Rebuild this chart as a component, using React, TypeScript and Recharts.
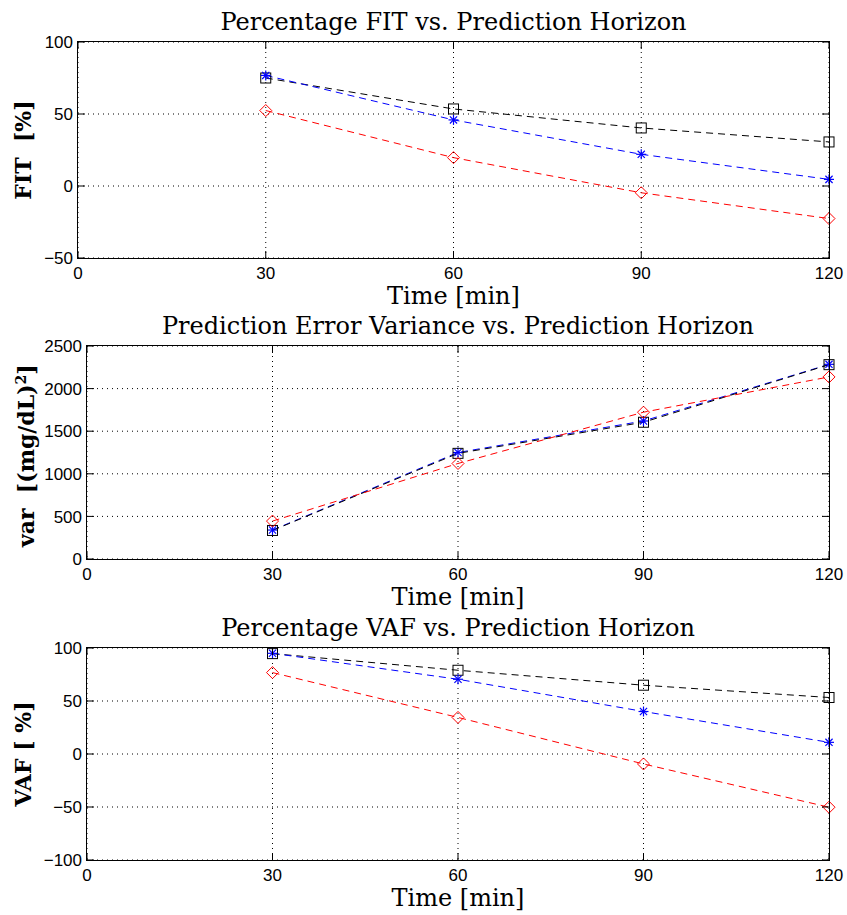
import React from "react";
import { LineChart, Line, XAxis, YAxis, CartesianGrid } from "recharts";

// prediction horizons [min]
const times = [30, 60, 90, 120];
const xTicks = [0, 30, 60, 90, 120];

// FIT [%]
const fitSquare = [75, 53.5, 40.3, 30.6];
const fitStar = [76.8, 45.9, 22, 4.6];
const fitDiamond = [52.4, 19.7, -4.7, -22.6];
const fitTicks = [-50, 0, 50, 100];

// prediction error variance [(mg/dL)^2]
const varSquare = [335, 1240, 1605, 2281];
const varStar = [340, 1250, 1620, 2285];
const varDiamond = [445, 1121, 1723, 2137];
const varTicks = [0, 500, 1000, 1500, 2000, 2500];

// VAF [%]
const vafSquare = [94.7, 79, 64.9, 53.3];
const vafStar = [95, 70.5, 40.1, 11];
const vafDiamond = [76.8, 34.5, -9.4, -50.2];
const vafTicks = [-100, -50, 0, 50, 100];

const W = 847;
const PAD = 10; // space above the plot box inside each chart
const TICK = 7; // inward tick length
const serif = "'DejaVu Serif', serif";
const tickFamily = "'Liberation Sans', Arial, sans-serif";
const minus = (v: number) => String(v).replace("-", "\u2212");

const Square = (p: any) => {
  if (p.cx == null || p.cy == null) return null;
  return <rect x={p.cx - 5} y={p.cy - 5} width={10} height={10} fill="none" stroke="#000" strokeWidth={1} />;
};
const Star = (p: any) => {
  if (p.cx == null || p.cy == null) return null;
  const r = 5, d = 3.6;
  return (
    <g stroke="#0000ff" strokeWidth={1.2}>
      <line x1={p.cx - r} y1={p.cy} x2={p.cx + r} y2={p.cy} />
      <line x1={p.cx} y1={p.cy - r} x2={p.cx} y2={p.cy + r} />
      <line x1={p.cx - d} y1={p.cy - d} x2={p.cx + d} y2={p.cy + d} />
      <line x1={p.cx - d} y1={p.cy + d} x2={p.cx + d} y2={p.cy - d} />
    </g>
  );
};
const Diamond = (p: any) => {
  if (p.cx == null || p.cy == null) return null;
  const h = 6;
  return (
    <polygon
      points={`${p.cx},${p.cy - h} ${p.cx + h},${p.cy} ${p.cx},${p.cy + h} ${p.cx - h},${p.cy}`}
      fill="none" stroke="#ff0000" strokeWidth={1}
    />
  );
};

type PanelProps = {
  title: string;
  yLabel: React.ReactNode;
  plotTop: number;
  plotBottom: number;
  plotLeft: number;
  plotRight: number;
  yTicks: number[];
  square: number[];
  star: number[];
  diamond: number[];
  blackLast?: boolean;
};

function Panel(props: PanelProps) {
  const { title, yLabel, plotTop, plotBottom, plotLeft, plotRight, yTicks } = props;
  const data = times.map((t, i) => ({ t, sq: props.square[i], st: props.star[i], di: props.diamond[i] }));
  const yDomain = [yTicks[0], yTicks[yTicks.length - 1]];
  const plotH = plotBottom - plotTop;
  const cy = (plotTop + plotBottom) / 2;
  const dash = "7 5";
  const boxTop = PAD;
  const boxBottom = PAD + plotH;

  const xTick = (p: any) => (
    <g>
      <line x1={p.x} x2={p.x} y1={boxBottom} y2={boxBottom - TICK} stroke="#000" />
      <line x1={p.x} x2={p.x} y1={boxTop} y2={boxTop + TICK} stroke="#000" />
      <text x={p.x} y={p.y} dy="0.71em" textAnchor="middle" fontFamily={tickFamily} fontSize={17} fill="#000">
        {minus(p.payload.value)}
      </text>
    </g>
  );
  const yTick = (p: any) => (
    <g>
      <line x1={plotLeft} x2={plotLeft + TICK} y1={p.y} y2={p.y} stroke="#000" />
      <line x1={plotRight} x2={plotRight - TICK} y1={p.y} y2={p.y} stroke="#000" />
      <text x={p.x} y={p.y} dy="0.36em" textAnchor="end" fontFamily={tickFamily} fontSize={17} fill="#000">
        {minus(p.payload.value)}
      </text>
    </g>
  );

  const black = (
    <Line key="sq" dataKey="sq" type="linear" stroke="#000" strokeWidth={1} strokeDasharray={dash}
      dot={<Square />} activeDot={false} isAnimationActive={false} />
  );
  const blue = (
    <Line key="st" dataKey="st" type="linear" stroke="#0000ff" strokeWidth={1} strokeDasharray={dash}
      dot={<Star />} activeDot={false} isAnimationActive={false} />
  );
  const red = (
    <Line key="di" dataKey="di" type="linear" stroke="#ff0000" strokeWidth={1} strokeDasharray={dash}
      dot={<Diamond />} activeDot={false} isAnimationActive={false} />
  );

  return (
    <>
      <div style={{
        position: "absolute", left: plotLeft, width: plotRight - plotLeft, top: plotTop - 34,
        textAlign: "center", fontFamily: serif, fontSize: 24, lineHeight: "28px", whiteSpace: "nowrap",
      }}>{title}</div>
      <div style={{
        position: "absolute", left: 23 - plotH / 2, width: plotH, top: cy - 14,
        textAlign: "center", fontFamily: serif, fontWeight: "bold", fontSize: 22, lineHeight: "28px",
        whiteSpace: "nowrap", transform: "rotate(-90deg)",
      }}>{yLabel}</div>
      <div style={{
        position: "absolute", left: plotLeft, width: plotRight - plotLeft, top: plotBottom + 26,
        textAlign: "center", fontFamily: serif, fontSize: 24, lineHeight: "24px", whiteSpace: "nowrap",
      }}>Time [min]</div>
      <div style={{ position: "absolute", left: 0, top: plotTop - PAD }}>
        <LineChart width={W} height={plotH + PAD + 28} data={data}
          margin={{ top: PAD, right: W - plotRight, bottom: 0, left: 0 }}>
          <CartesianGrid stroke="#000" strokeDasharray="1 4" strokeWidth={1} />
          <XAxis dataKey="t" type="number" domain={[0, 120]} ticks={xTicks} height={28}
            axisLine={false} tickLine={false} tickSize={0} tickMargin={9} tick={xTick} />
          <YAxis type="number" domain={yDomain} ticks={yTicks} width={plotLeft} interval={0}
            axisLine={false} tickLine={false} tickSize={0} tickMargin={5} tick={yTick} />
          {props.blackLast ? [blue, black, red] : [black, blue, red]}
        </LineChart>
      </div>
      <div style={{
        position: "absolute", left: plotLeft - 1, top: plotTop - 1, width: plotRight - plotLeft + 2,
        height: plotH + 2, border: "1px solid #000", boxSizing: "border-box", pointerEvents: "none",
      }} />
    </>
  );
}

export default function App() {
  return (
    <div style={{ position: "absolute", left: 0, top: 0, width: W, height: 915, background: "#fff" }}>
      <Panel title="Percentage FIT vs. Prediction Horizon" yLabel={"FIT\u00a0 [%]"}
        plotTop={42} plotBottom={258} plotLeft={78} plotRight={829}
        yTicks={fitTicks} square={fitSquare} star={fitStar} diamond={fitDiamond} />
      <Panel title="Prediction Error Variance vs. Prediction Horizon"
        yLabel={<span>var&nbsp; [(mg/dL)<sup style={{ fontSize: 14 }}>2</sup>]</span>}
        plotTop={346} plotBottom={559} plotLeft={87} plotRight={829}
        yTicks={varTicks} square={varSquare} star={varStar} diamond={varDiamond} blackLast />
      <Panel title="Percentage VAF vs. Prediction Horizon" yLabel="VAF [ %]"
        plotTop={648} plotBottom={860} plotLeft={87} plotRight={829}
        yTicks={vafTicks} square={vafSquare} star={vafStar} diamond={vafDiamond} />
    </div>
  );
}
